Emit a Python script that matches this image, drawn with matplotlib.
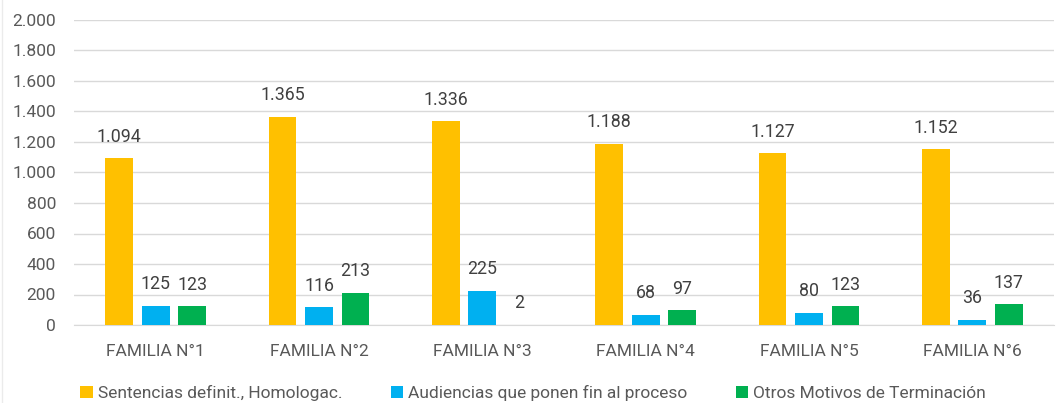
import matplotlib
matplotlib.use("Agg")
import matplotlib.pyplot as plt
import numpy as np
from matplotlib.ticker import FuncFormatter
from matplotlib.lines import Line2D

categories = ["FAMILIA N°1", "FAMILIA N°2", "FAMILIA N°3", "FAMILIA N°4", "FAMILIA N°5", "FAMILIA N°6"]
series_names = ["Sentencias definit., Homologac.", "Audiencias que ponen fin al proceso", "Otros Motivos de Terminación"]
sentencias = [1094, 1365, 1336, 1188, 1127, 1152]
audiencias = [125, 116, 225, 68, 80, 36]
otros = [123, 213, 2, 97, 123, 137]
colors = ["#FFC000", "#00B0F0", "#00B050"]

plt.rcParams['font.family'] = ["Roboto", 'DejaVu Sans']
txt = "#595959"

fig = plt.figure(figsize=(10.56, 4.03), dpi=100)
ax = fig.add_axes([74/1056, 1-325/403, 980/1056, 305/403])

x = np.arange(len(categories))
w = 0.17
step = 0.224
for i, (vals, name, c) in enumerate(zip([sentencias, audiencias, otros], series_names, colors)):
    bars = ax.bar(x + (i-1)*step, vals, width=w, color=c, label=name, zorder=3)
    for b, v in zip(bars, vals):
        ax.annotate(f"{v:,}".replace(",", "."), (b.get_x()+b.get_width()/2, v),
                    xytext=(0, 9), textcoords="offset points", ha="center", va="bottom",
                    fontsize=12.8, color="#404040")

ax.set_xlim(-0.5, len(categories)-0.5)
ax.set_ylim(0, 2000)
ax.set_yticks(range(0, 2001, 200))
ax.yaxis.set_major_formatter(FuncFormatter(lambda v, p: f"{int(v):,}".replace(",", ".")))
ax.grid(axis="y", color="#D9D9D9", linewidth=1, zorder=0)
ax.set_xticks(x)
ax.set_xticklabels(categories)
for s in ["top", "right", "left"]:
    ax.spines[s].set_visible(False)
ax.spines["bottom"].set_color("#D9D9D9")
ax.tick_params(axis="both", length=0, labelsize=12.5, colors=txt)
ax.tick_params(axis="x", pad=14)
ax.tick_params(axis="y", pad=13)

fig.legend(loc="lower center", bbox_to_anchor=(0.505, -0.035), ncol=3, frameon=False,
           fontsize=12.5, labelcolor=txt, handlelength=0.7, handleheight=0.7,
           handletextpad=0.3, columnspacing=2.8)

fig.add_artist(Line2D([1.5/1056, 1.5/1056], [0, 1], transform=fig.transFigure,
                      color="#EBEBEB", linewidth=1))

fig.savefig("out.png", dpi=100)
